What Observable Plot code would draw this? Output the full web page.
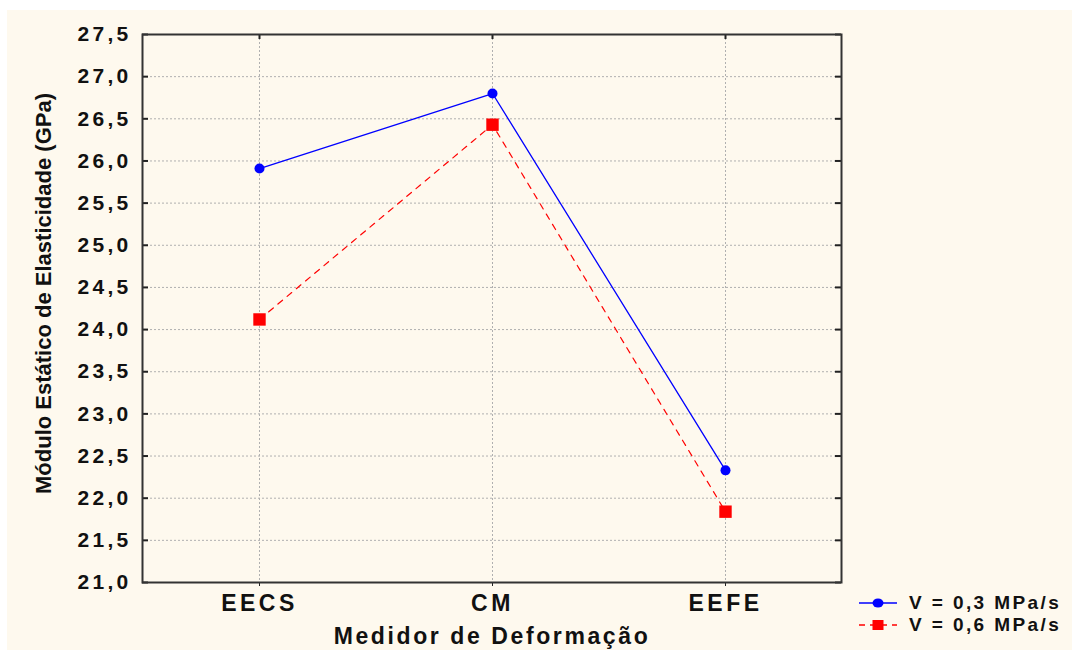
<!DOCTYPE html>
<html>
<head>
<meta charset="utf-8">
<script src="https://cdn.jsdelivr.net/npm/d3@7"></script>
<script src="https://cdn.jsdelivr.net/npm/@observablehq/plot@0.6"></script>
<style>
  html, body { margin: 0; padding: 0; background: #ffffff; width: 1072px; height: 650px; overflow: hidden; }
  #panel { position: absolute; left: 7px; top: 10px; width: 1065px; height: 640px; background: #FEF9EE; }
  #chart svg { display: block; font-family: "Liberation Sans", Arial, sans-serif; }
  g[aria-label="y-axis tick label"] text { letter-spacing: 3.3px; font-weight: bold; }
  g[aria-label="x-axis tick label"] text { letter-spacing: 3.5px; font-weight: bold; }
  .xtitle text { letter-spacing: 2.6px; }
  #legend { position: absolute; left: 858px; top: 592px; font-family: "Liberation Sans", Arial, sans-serif; font-weight: bold; font-size: 19px; letter-spacing: 2.4px; color: #111; white-space: pre; }
  #legend .row { display: flex; align-items: center; height: 22px; }
  #legend svg { margin-right: 11px; }
</style>
</head>
<body>
<div id="panel"><div id="chart"></div></div>
<div id="legend"></div>
<script>
const categories = ["EECS", "CM", "EEFE"];
const seriesNames = ["V = 0,3 MPa/s", "V = 0,6 MPa/s"];
const v03 = [25.91, 26.80, 22.33];
const v06 = [24.12, 26.43, 21.84];
const yTicks = [21.0, 21.5, 22.0, 22.5, 23.0, 23.5, 24.0, 24.5, 25.0, 25.5, 26.0, 26.5, 27.0, 27.5];
const xTitle = "Medidor de Deformação";
const yTitle = "Módulo Estático de Elasticidade (GPa)";

const d03 = categories.map((c, i) => ({cat: c, v: v03[i]}));
const d06 = categories.map((c, i) => ({cat: c, v: v06[i]}));

const W = 1065, H = 640;
const mL = 135, mR = 231, mT = 24, mB = 68;
const pw = W - mL - mR, ph = H - mT - mB;
const fmt = d => d.toFixed(1).replace(".", ",");

const chart = Plot.plot({
  width: W,
  height: H,
  marginLeft: mL,
  marginRight: mR,
  marginTop: mT,
  marginBottom: mB,
  style: {background: "transparent", fontSize: "21px", color: "#111"},
  x: {type: "point", domain: categories, padding: 0.5},
  y: {domain: [21, 27.5]},
  marks: [
    Plot.gridY(yTicks, {stroke: "#b0b0b0", strokeOpacity: 1, strokeDasharray: "2,2", strokeWidth: 1}),
    Plot.gridX(categories, {stroke: "#b0b0b0", strokeOpacity: 1, strokeDasharray: "2,2", strokeWidth: 1}),
    Plot.tickY(yTicks, {y: d => d, stroke: "#222", strokeWidth: 2, insetRight: pw - 6}),
    Plot.tickY(yTicks, {y: d => d, stroke: "#222", strokeWidth: 2, insetLeft: pw - 6}),
    Plot.tickX(categories, {x: d => d, stroke: "#222", strokeWidth: 2, insetBottom: ph - 5}),
    Plot.axisY(yTicks, {tickSize: 0, tickPadding: 11, tickFormat: fmt, fontSize: 21, label: null}),
    Plot.axisX({tickSize: 4, tickPadding: 8, fontSize: 23, label: null, stroke: "#222"}),
    Plot.frame({stroke: "#333", strokeWidth: 2}),
    Plot.line(d03, {x: "cat", y: "v", stroke: "#0000FF", strokeWidth: 1.3}),
    Plot.line(d06, {x: "cat", y: "v", stroke: "#FF0000", strokeWidth: 1.2, strokeDasharray: "6,6"}),
    Plot.dot(d03, {x: "cat", y: "v", fill: "#0000FF", r: 5, symbol: "circle"}),
    Plot.dot(d06, {x: "cat", y: "v", fill: "#FF0000", r: 7, symbol: "square"}),
    Plot.text([xTitle], {frameAnchor: "bottom", dy: 61, text: d => d, fontSize: 23, fontWeight: "bold", fill: "#111", className: "xtitle"}),
    Plot.text([yTitle], {frameAnchor: "left", textAnchor: "middle", dx: -99, dy: -15, rotate: -90, text: d => d, fontSize: 22, fontWeight: "bold", fill: "#111", fontFamily: "'Liberation Sans Narrow', 'Liberation Sans', sans-serif"})
  ]
});
document.getElementById("chart").appendChild(chart);

// Legend
const leg = document.getElementById("legend");
const styles = [
  {color: "#0000FF", dash: null, sym: "circle"},
  {color: "#FF0000", dash: "6,5", sym: "square"}
];
seriesNames.forEach((name, i) => {
  const s = styles[i];
  const row = document.createElement("div");
  row.className = "row";
  const symbol = s.sym === "circle"
    ? `<ellipse cx="20" cy="8" rx="5.5" ry="4.5" fill="${s.color}"/>`
    : `<rect x="14.5" y="3" width="11" height="10" fill="${s.color}"/>`;
  row.innerHTML = `<svg width="40" height="16"><line x1="1" x2="39" y1="8" y2="8" stroke="${s.color}" stroke-width="1.5" ${s.dash ? `stroke-dasharray="${s.dash}"` : ""}/>${symbol}</svg><span>${name}</span>`;
  leg.appendChild(row);
});
</script>
</body>
</html>
